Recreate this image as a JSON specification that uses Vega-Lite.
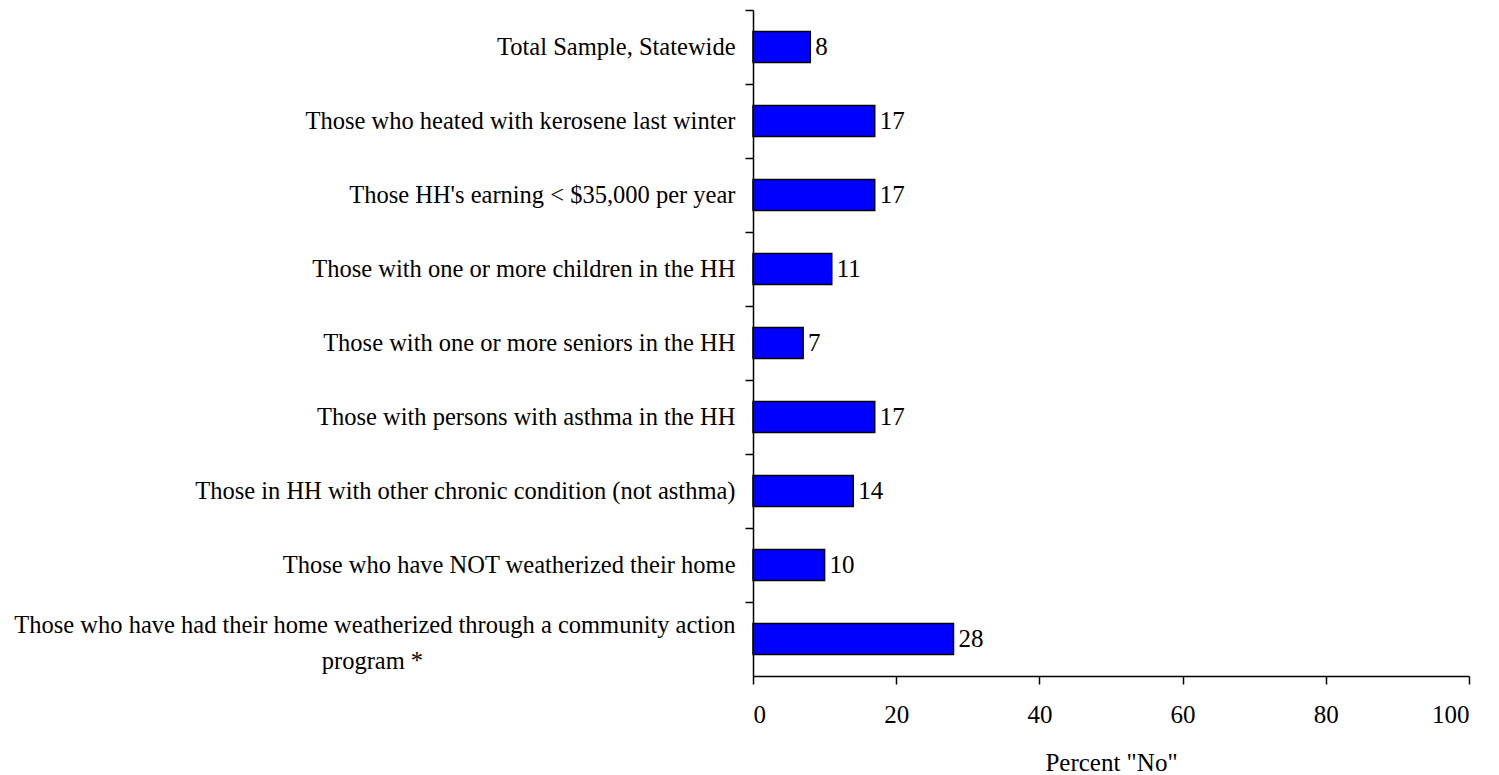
{
  "$schema": "https://vega.github.io/schema/vega-lite/v6.json",
  "width": 716,
  "height": 666,
  "autosize": {"type": "none"},
  "padding": {"left": 753, "top": 10, "right": 30, "bottom": 99},
  "background": "white",
  "config": {
    "view": {"stroke": null},
    "font": "Liberation Serif"
  },
  "data": {
    "values": [
      {"group": "Total Sample, Statewide", "pct": 8},
      {"group": "Those who heated with kerosene last winter", "pct": 17},
      {"group": "Those HH's earning < $35,000 per year", "pct": 17},
      {"group": "Those with one or more children in the HH", "pct": 11},
      {"group": "Those with one or more seniors in the HH", "pct": 7},
      {"group": "Those with persons with asthma in the HH", "pct": 17},
      {"group": "Those in HH with other chronic condition (not asthma)", "pct": 14},
      {"group": "Those who have NOT weatherized their home", "pct": 10},
      {"group": "Those who have had their home weatherized through a community action program *", "pct": 28}
    ]
  },
  "encoding": {
    "y": {
      "field": "group",
      "type": "nominal",
      "sort": null,
      "scale": {"paddingInner": 0, "paddingOuter": 0},
      "axis": {
        "title": null,
        "ticks": true,
        "tickOffset": -37,
        "labelOffset": {"condition": {"test": "indexof(datum.value, 'community action') > 0", "value": 23}, "value": 37},
        "tickSize": 8,
        "tickWidth": 1.5,
        "tickColor": "black",
        "domainColor": "black",
        "domainWidth": 1.5,
        "labelFont": "Liberation Serif",
        "labelFontSize": 24.5,
        "labelColor": "black",
        "labelPadding": 10,
        "labelLimit": 800,
        "labelLineHeight": 36,
        "labelExpr": "indexof(datum.value, 'community action') > 0 ? ['Those who have had their home weatherized through a community action', pad('program *', 60, '\u00a0', 'right') + '\u200b'] : datum.value"
      }
    },
    "x": {
      "field": "pct",
      "type": "quantitative",
      "scale": {"domain": [0, 100]},
      "axis": {
        "title": "Percent \"No\"",
        "values": [0, 20, 40, 60, 80, 100],
        "grid": false,
        "tickSize": 8,
        "tickWidth": 1.5,
        "tickColor": "black",
        "domainColor": "black",
        "domainWidth": 1.5,
        "labelFont": "Liberation Serif",
        "labelFontSize": 25,
        "labelColor": "black",
        "labelPadding": 18,
        "titleFont": "Liberation Serif",
        "titleFontSize": 25,
        "titleFontWeight": "normal",
        "titleColor": "black",
        "titlePadding": 23
      }
    }
  },
  "layer": [
    {"mark": {"type": "bar", "color": "#0000FF", "stroke": "black", "strokeWidth": 1.5, "height": {"band": 0.42}}},
    {
      "mark": {"type": "text", "align": "left", "dx": 5, "font": "Liberation Serif", "fontSize": 25, "color": "black"},
      "encoding": {"text": {"field": "pct", "type": "quantitative"}}
    }
  ]
}
